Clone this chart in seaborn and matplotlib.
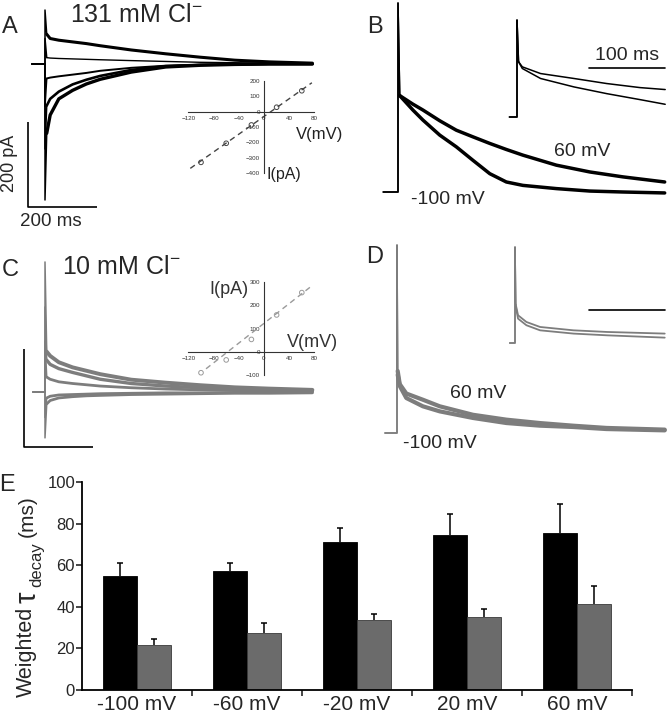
import numpy as np
import pandas as pd
import seaborn as sns
import matplotlib
matplotlib.use('Agg')
import matplotlib.pyplot as plt

# ---------------- data ----------------
# A: 131 mM Cl- currents (pA) vs time (ms) at each holding potential
a_time = [5, 15, 40, 80, 120, 160, 250, 350, 450, 550, 650, 775]
a_peak = {'60': 127, '20': 60, '-20': -100, '-60': -200, '-100': -320}
a_60 = [70, 60, 56, 52, 48, 43, 33, 24, 16, 9, 5, 2]
a_20 = [15, 14, 13, 12, 11, 10, 8, 6, 4, 3, 2, 1]
a_m20 = [-34, -32, -29, -25, -21, -16, -9, -4, -2, -1, 0, 0]
a_m60 = [-98, -82, -65, -48, -37, -28, -14, -5, -2, -1, 0, 0]
a_m100 = [-163, -120, -82, -62, -47, -36, -19, -7, -3, -1, 0, 0]

# A inset: I-V relation
iv_v = [-100, -60, -20, 20, 60]
a_iv_i = [-329, -205, -86, 29, 136]
a_fit_v = [-117, 76]
a_fit_i = [-368, 188]

# B: normalised currents, 60 mV vs -100 mV
b_time = [5, 43, 72, 121, 169, 217, 266, 314, 362, 459, 556, 652, 773]
b_60 = [0.51, 0.465, 0.434, 0.377, 0.327, 0.292, 0.257, 0.225, 0.195, 0.142, 0.106, 0.080, 0.053]
b_m100 = [0.51, 0.434, 0.381, 0.301, 0.239, 0.168, 0.097, 0.053, 0.035, 0.018, 0.005, 0.0, -0.005]
bi_time = [2, 7, 31, 75, 118, 162, 195]
bi_upper = [0.57, 0.517, 0.448, 0.397, 0.345, 0.303, 0.283]
bi_lower = [0.57, 0.50, 0.397, 0.31, 0.241, 0.179, 0.131]

# C: 10 mM Cl- currents (pA)
c_peak = {'60': 306, '20': 200, '-20': 120, '-60': -60, '-100': -108}
c_60 = [95, 85, 70, 58, 50, 42, 29, 22, 16, 11, 8, 5]
c_20 = [75, 65, 55, 46, 38, 30, 20, 14, 10, 7, 5, 3]
c_m20 = [35, 30, 24, 20, 17, 14, 10, 7, 5, 4, 3, 2]
c_m60 = [-14, -10, -7, -6, -5, -4, -3, -2, -2, -1, -1, -1]
c_m100 = [-28, -20, -14, -11, -9, -8, -6, -5, -4, -3, -3, -2]
c_iv_i = [-89, -34, 54, 159, 255]
c_fit_v = [-92, 75]
c_fit_i = [-72, 282]

# D: normalised currents in 10 mM Cl-
d_time = [2, 8, 27, 75, 124, 220, 317, 414, 510, 607, 776]
d_60 = [0.33, 0.26, 0.21, 0.177, 0.142, 0.097, 0.071, 0.053, 0.039, 0.027, 0.018]
d_m100 = [0.31, 0.25, 0.186, 0.142, 0.115, 0.080, 0.053, 0.039, 0.032, 0.021, 0.014]
di_time = [1, 4, 15, 33, 77, 121, 197]
di_upper = [0.40, 0.289, 0.219, 0.167, 0.132, 0.115, 0.098]
di_lower = [0.38, 0.254, 0.185, 0.132, 0.098, 0.080, 0.056]

# E: weighted decay time constants
voltages = ['-100 mV', '-60 mV', '-20 mV', '20 mV', '60 mV']
tau_131 = [55, 57, 71, 74.5, 75.5]
err_131 = [6, 4, 7, 10, 14]
tau_10 = [21.5, 27.5, 33.5, 35, 41.5]
err_10 = [3, 4.5, 3, 4, 8.5]

# ---------------- layout helpers ----------------
W, H = 669, 719
BLACK = '#000000'
GREY = '#7d7d7d'

sns.set_style('white')
plt.rcParams['font.family'] = ['Liberation Sans', 'DejaVu Sans']
plt.rcParams['mathtext.fontset'] = 'custom'
plt.rcParams['mathtext.rm'] = 'Liberation Sans'
plt.rcParams['mathtext.it'] = 'Liberation Sans:italic'

fig = plt.figure(figsize=(W / 100, H / 100), dpi=100)


def px_axes(box):
    x0, y0, x1, y1 = box
    ax = fig.add_axes([x0 / W, 1 - y1 / H, (x1 - x0) / W, (y1 - y0) / H])
    ax.set_facecolor('none')
    return ax


def calibrate(ax, box, origin, scale):
    # origin: pixel of data (0, 0); scale: pixels per data unit
    x0, y0, x1, y1 = box
    ox, oy = origin
    sx, sy = scale
    ax.set_xlim((x0 - ox) / sx, (x1 - ox) / sx)
    ax.set_ylim((oy - y1) / sy, (oy - y0) / sy)


def trace_axes(box, origin, scale):
    ax = px_axes(box)
    calibrate(ax, box, origin, scale)
    ax.axis('off')
    return ax


def trace(ax, t_pre, t, peak, vals, color, lw, spike_lw=1.1):
    sns.lineplot(x=[t_pre, 0, 0, t[0]], y=[0, 0, peak, vals[0]], ax=ax, color=color,
                 lw=spike_lw, estimator=None, sort=False)
    sns.lineplot(x=t, y=vals, ax=ax, color=color, lw=lw, estimator=None, sort=False)


def text(x, y, s, size, **kw):
    kw.setdefault('ha', 'center')
    kw.setdefault('va', 'center')
    fig.text(x / W, 1 - y / H, s, fontsize=size, **kw)


def iv_inset(box, origin, scale, i_vals, fit_v, fit_i, yticks, data_color, axis_color):
    ax = px_axes(box)
    calibrate(ax, box, origin, scale)
    ax.plot(fit_v, fit_i, color=data_color, lw=1.0, ls=(0, (4, 3)))
    ax.scatter(iv_v, i_vals, s=11, facecolors='none', edgecolors=data_color, linewidths=0.7, zorder=3)
    for side in ['top', 'right']:
        ax.spines[side].set_visible(False)
    for side in ['left', 'bottom']:
        ax.spines[side].set_position(('data', 0))
        ax.spines[side].set_color(axis_color)
        ax.spines[side].set_linewidth(0.8)
    ax.spines['bottom'].set_bounds(-120, 80)
    ax.spines['left'].set_bounds(yticks[0], yticks[-1])
    ax.set_xticks([-120, -80, -40, 0, 40, 80])
    ax.set_xticks(np.arange(-120, 81, 20), minor=True)
    ax.set_yticks(yticks)
    ax.tick_params(which='both', direction='out', length=2, width=0.6, colors=axis_color,
                   labelsize=4.5, pad=1)
    ax.tick_params(which='minor', length=1.2)
    ax.grid(False)
    return ax


# ---------------- panel A ----------------
boxA = (20, 0, 335, 235)
axA = trace_axes(boxA, (45, 64), (0.345, 0.425))
for key, vals, lw in [('60', a_60, 2.2), ('20', a_20, 1.0), ('-20', a_m20, 1.4),
                      ('-60', a_m60, 1.9), ('-100', a_m100, 2.4)]:
    trace(axA, -38, a_time, a_peak[key], vals, BLACK, lw)
axA.plot([-49, -49, 151], [-136, -336, -336], color=BLACK, lw=1.2, solid_capstyle='butt')

iv_inset((182, 76, 321, 178), (264, 111.7), (0.63, 0.154), a_iv_i, a_fit_v, a_fit_i,
         [-400, -300, -200, -100, 0, 100, 200], '#444444', '#333333')

# ---------------- panel B ----------------
axB = trace_axes((345, 0, 669, 235), (398, 192), (0.345, 189))
trace(axB, -43, b_time, 1.0, b_60, BLACK, 2.5)
trace(axB, -43, b_time, 1.0, b_m100, BLACK, 2.5)
axBi = trace_axes((500, 10, 669, 125), (517, 117), (0.76, 97))
trace(axBi, -10, bi_time, 1.0, bi_upper, BLACK, 1.1)
trace(axBi, -10, bi_time, 1.0, bi_lower, BLACK, 1.1)
axBi.plot([95, 195], [0.505, 0.505], color=BLACK, lw=1.2)

# ---------------- panel C ----------------
axC = trace_axes((15, 250, 335, 460), (45, 392), (0.345, 0.425))
for key, vals, lw in [('60', c_60, 2.8), ('20', c_20, 2.4), ('-20', c_m20, 2.0),
                      ('-60', c_m60, 2.0), ('-100', c_m100, 2.0)]:
    trace(axC, -35, a_time, c_peak[key], vals, GREY, lw)
axC.plot([-61, -61, 139], [101, -129, -129], color=BLACK, lw=1.2, solid_capstyle='butt')

iv_inset((182, 275, 321, 380), (264, 352), (0.63, 0.233), c_iv_i, c_fit_v, c_fit_i,
         [-100, 0, 100, 200, 300], '#9a9a9a', '#333333')

# ---------------- panel D ----------------
axD = trace_axes((345, 235, 669, 460), (397, 433), (0.345, 188))
trace(axD, -35, d_time, 1.0, d_60, GREY, 3.0)
trace(axD, -35, d_time, 1.0, d_m100, GREY, 3.0)
axDi = trace_axes((500, 240, 669, 350), (515, 343), (0.76, 96))
trace(axDi, -7, di_time, 1.0, di_upper, GREY, 1.3)
trace(axDi, -7, di_time, 1.0, di_lower, GREY, 1.3)
axDi.plot([97, 197], [0.344, 0.344], color=BLACK, lw=1.2)

# ---------------- panel E ----------------
axE = px_axes((82, 482, 632, 690))
df = pd.DataFrame({
    'voltage': voltages * 2,
    'tau': tau_131 + tau_10,
    'solution': ['131 mM'] * 5 + ['10 mM'] * 5,
})
sns.barplot(data=df, x='voltage', y='tau', hue='solution', palette=[BLACK, '#6b6b6b'],
            width=0.61, gap=0, errorbar=None, saturation=1, legend=False, ax=axE,
            edgecolor=BLACK, linewidth=0.6)
bars = list(axE.patches)
errs = err_131 + err_10
for bar, err in zip(bars, errs):
    cx = bar.get_x() + bar.get_width() / 2
    h = bar.get_height()
    _, caps, _ = axE.errorbar([cx], [h], yerr=[[0], [err]], fmt='none', ecolor=BLACK,
                              elinewidth=1.1, capsize=2, capthick=1.1, zorder=1)
    caps[0].set_visible(False)
for bar in bars[5:]:
    bar.set_edgecolor('#3a3a3a')
axE.set_xlim(-0.5, 4.5)
axE.set_ylim(0, 100)
axE.set_yticks([0, 20, 40, 60, 80, 100])
axE.set_xticks([0.5, 1.5, 2.5, 3.5, 4.5], minor=True)
sns.despine(ax=axE)
for side in ['left', 'bottom']:
    axE.spines[side].set_linewidth(1.3)
    axE.spines[side].set_color(BLACK)
axE.tick_params(axis='y', direction='out', length=4, width=1.2, labelsize=12, pad=1,
                left=True)
axE.tick_params(axis='x', which='major', length=0, labelsize=15, pad=3.6)
axE.tick_params(axis='x', which='minor', direction='out', length=4, width=1.2, bottom=True)
axE.set_xlabel('')
axE.set_ylabel('')
# y label in pieces so the tau can be set larger than the rest
text(26, 652, 'Weighted', 15.5, rotation=90)
text(28, 597, 'τ', 21, rotation=90)
text(37, 565, 'decay', 12, rotation=90)
text(27, 516, '(ms)', 15, rotation=90)

# ---------------- labels ----------------
for letter, x, y in [('A', 10, 27), ('B', 375, 27), ('C', 10, 270), ('D', 375, 257), ('E', 7, 485)]:
    text(x, y, letter, 17)
text(136, 15, r'131 mM Cl$^{-}$', 18)
text(121, 267, r'10 mM Cl$^{-}$', 18)
text(9, 163, '200 pA', 13, rotation=90)
text(51, 222, '200 ms', 13.5)
text(582, 152, '60 mV', 14)
text(448, 199, '-100 mV', 14)
text(627, 56, '100 ms', 14)
text(478, 394, '60 mV', 14)
text(440, 443, '-100 mV', 14)
text(320, 135, 'V(mV)', 12, color='#222222')
text(284, 174, 'I(pA)', 11.5, color='#222222')
text(312, 342, 'V(mV)', 13, color='#333333')
text(229, 289, 'I(pA)', 13, color='#333333')

fig.savefig('out.png', dpi=100)
